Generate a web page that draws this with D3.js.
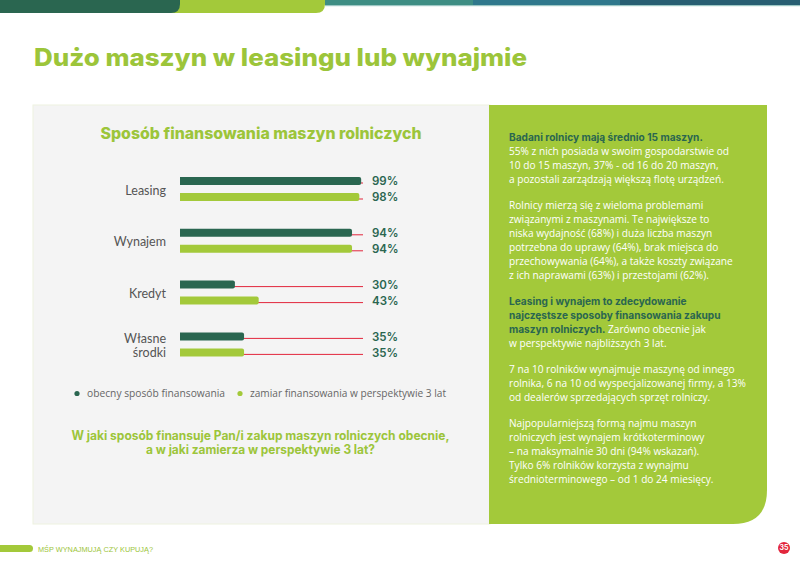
<!DOCTYPE html>
<html><head><meta charset="utf-8">
<script src="https://cdn.jsdelivr.net/npm/d3@7/dist/d3.min.js"></script>
<style>
html,body{margin:0;padding:0;background:#fff;}
svg{display:block;}
</style></head>
<body>
<script>
// ---- data ----
const categories = [["Leasing"], ["Wynajem"], ["Kredyt"], ["Własne", "środki"]];
const seriesNames = ["obecny sposób finansowania", "zamiar finansowania w perspektywie 3 lat"];
const currentValues = [99, 94, 30, 35];
const plannedValues = [98, 94, 43, 35];
const pageTitle = "Dużo maszyn w leasingu lub wynajmie";
const chartTitle = "Sposób finansowania maszyn rolniczych";
const questionLines = ["W jaki sposób finansuje Pan/i zakup maszyn rolniczych obecnie,", "a w jaki zamierza w perspektywie 3 lat?"];
const sideParagraphs = [
  [[["Badani rolnicy mają średnio 15 maszyn.", true]],
   [["55% z nich posiada w swoim gospodarstwie od", false]],
   [["10 do 15 maszyn, 37% - od 16 do 20 maszyn,", false]],
   [["a pozostali zarządzają większą flotę urządzeń.", false]]],
  [[["Rolnicy mierzą się z wieloma problemami", false]],
   [["związanymi z maszynami. Te największe to", false]],
   [["niska wydajność (68%) i duża liczba maszyn", false]],
   [["potrzebna do uprawy (64%), brak miejsca do", false]],
   [["przechowywania (64%), a także koszty związane", false]],
   [["z ich naprawami (63%) i przestojami (62%).", false]]],
  [[["Leasing i wynajem to zdecydowanie", true]],
   [["najczęstsze sposoby finansowania zakupu", true]],
   [["maszyn rolniczych.", true], [" Zarówno obecnie jak", false]],
   [["w perspektywie najbliższych 3 lat.", false]]],
  [[["7 na 10 rolników wynajmuje maszynę od innego", false]],
   [["rolnika, 6 na 10 od wyspecjalizowanej firmy, a 13%", false]],
   [["od dealerów sprzedających sprzęt rolniczy.", false]]],
  [[["Najpopularniejszą formą najmu maszyn", false]],
   [["rolniczych jest wynajem krótkoterminowy", false]],
   [["– na maksymalnie 30 dni (94% wskazań).", false]],
   [["Tylko 6% rolników korzysta z wynajmu", false]],
   [["średnioterminowego – od 1 do 24 miesięcy.", false]]]
];
const footerText = "MŚP WYNAJMUJĄ CZY KUPUJĄ?";
const pageNumber = "35";

// ---- style ----
const DARK = "#2a6650", LIME = "#a3c93a", TITLE_LIME = "#9cc53a", RED = "#e2263c";
const W = 800, H = 565;
const svg = d3.select("body").append("svg").attr("width", W).attr("height", H);
const HEAD = "Inter, 'Open Sans', sans-serif";
const BODY = "'Open Sans', 'Noto Sans', sans-serif";

// top decoration
svg.append("rect").attr("x", 325).attr("y", 0).attr("width", 150).attr("height", 5).attr("fill", "#3e8e84");
svg.append("rect").attr("x", 473).attr("y", 0).attr("width", 150).attr("height", 5).attr("fill", "#2f788c");
svg.append("rect").attr("x", 620).attr("y", 0).attr("width", 180).attr("height", 5).attr("fill", "#285e72");
svg.append("rect").attr("x", 325).attr("y", 5).attr("width", 475).attr("height", 1.2).attr("fill", "#9cc7c4");
function tab(x0, x1, h, r, fill) {
  svg.append("path").attr("fill", fill)
    .attr("d", `M${x0},0 H${x1} V${h - r} Q${x1},${h} ${x1 - r},${h} H${x0} Z`);
}
tab(160, 325, 13, 9, LIME);
tab(0, 180, 13, 9, DARK);

// page title
svg.append("text").attr("x", 34).attr("y", 66).text(pageTitle)
  .attr("font-family", HEAD).attr("font-weight", 800).attr("font-size", 24)
  .attr("fill", TITLE_LIME).attr("textLength", 493).attr("lengthAdjust", "spacingAndGlyphs");

// panels
svg.append("rect").attr("x", 33).attr("y", 105).attr("width", 457).attr("height", 419).attr("fill", "#f4f4f4")
  .attr("stroke", "#eef2e0").attr("stroke-width", 1);
svg.append("path").attr("fill", LIME)
  .attr("d", "M489,105 H767 V490 Q767,524 733,524 H489 Z");

// chart title
svg.append("text").attr("x", 261).attr("y", 139).attr("text-anchor", "middle").text(chartTitle)
  .attr("font-family", HEAD).attr("font-weight", 800).attr("font-size", 15.5)
  .attr("fill", TITLE_LIME).attr("textLength", 321).attr("lengthAdjust", "spacingAndGlyphs");

// scales
const x = d3.scaleLinear().domain([0, 100]).range([180, 363]);
const y = d3.scaleBand().domain(d3.range(categories.length)).range([163.1, 370.3]);
const sub = d3.scaleBand().domain([0, 1]).range([0, 32]).paddingInner(0.5).paddingOuter(0.25);

const rows = [];
categories.forEach((c, i) => {
  [currentValues[i], plannedValues[i]].forEach((v, s) => rows.push({ i, s, v }));
});
const yPos = d => y(d.i) + y.bandwidth() / 2 - 16 + sub(d.s);

const g = svg.append("g");
// red reference lines
g.selectAll("line.ref").data(rows).join("line").attr("class", "ref")
  .attr("x1", d => x(d.v) - 1).attr("x2", x(100))
  .attr("y1", d => yPos(d) + sub.bandwidth() / 2 + 2).attr("y2", d => yPos(d) + sub.bandwidth() / 2 + 2)
  .attr("stroke", RED).attr("stroke-width", 1);
// bars
g.selectAll("path.bar").data(rows).join("path").attr("class", "bar")
  .attr("fill", d => d.s === 0 ? DARK : LIME)
  .attr("d", d => {
    const x0 = x(0), x1 = x(d.v), y0 = yPos(d), h = sub.bandwidth(), r = 2;
    return `M${x0},${y0} H${x1 - r} Q${x1},${y0} ${x1},${y0 + r} V${y0 + h - r} Q${x1},${y0 + h} ${x1 - r},${y0 + h} H${x0} Z`;
  });
// value labels
g.selectAll("text.val").data(rows).join("text").attr("class", "val")
  .attr("x", 372).attr("y", d => yPos(d) + sub.bandwidth() / 2).attr("dy", "0.36em")
  .text(d => d.v + "%")
  .attr("font-family", HEAD).attr("font-weight", 600).attr("font-size", 11.5).attr("fill", DARK);
// category labels
categories.forEach((lines, i) => {
  const cy = y(i) + y.bandwidth() / 2 + 1;
  const t = g.append("text").attr("x", 166).attr("text-anchor", "end")
    .attr("font-family", "Lato, 'Open Sans', sans-serif").attr("font-size", 12.5).attr("fill", "#555");
  lines.forEach((ln, k) => {
    t.append("tspan").attr("x", 166)
      .attr("y", cy + (k - (lines.length - 1) / 2) * 14.6).attr("dy", "0.36em").text(ln);
  });
});

// legend
const legendX = [77, 240];
seriesNames.forEach((n, s) => {
  svg.append("circle").attr("cx", legendX[s]).attr("cy", 393.5).attr("r", 2.6).attr("fill", s === 0 ? DARK : LIME);
  svg.append("text").attr("x", legendX[s] + 10).attr("y", 393.5).attr("dy", "0.35em").text(n)
    .attr("font-family", BODY).attr("font-size", 10).attr("fill", "#666")
    .attr("textLength", s === 0 ? 138 : 196).attr("lengthAdjust", "spacingAndGlyphs");
});

// question
const qLens = [378, 229];
questionLines.forEach((q, k) => {
  svg.append("text").attr("x", 260.5).attr("y", 440 + k * 14).attr("text-anchor", "middle").text(q)
    .attr("font-family", HEAD).attr("font-weight", 700).attr("font-size", 12.5).attr("fill", TITLE_LIME)
    .attr("textLength", qLens[k]).attr("lengthAdjust", "spacingAndGlyphs");
});

// side text
let ty = 140.5;
sideParagraphs.forEach((para, pi) => {
  para.forEach((line, li) => {
    const t = svg.append("text").attr("x", 509).attr("y", ty)
      .attr("font-family", BODY).attr("font-size", 10.15);
    line.forEach(([s, bold]) => {
      t.append("tspan").text(s).attr("fill", bold ? DARK : "#ffffff")
        .attr("font-weight", bold ? 700 : 400)
        .attr("font-family", bold ? HEAD : BODY);
    });
    ty += 14.0;
  });
  ty += 12;
});

// footer
svg.append("rect").attr("x", -10).attr("y", 545).attr("width", 43).attr("height", 7).attr("rx", 3.5).attr("fill", LIME);
svg.append("text").attr("x", 38).attr("y", 551.5).text(footerText)
  .attr("font-family", "'Liberation Sans Narrow', 'Liberation Sans', sans-serif").attr("font-size", 7)
  .attr("fill", TITLE_LIME).attr("textLength", 115).attr("lengthAdjust", "spacingAndGlyphs");
svg.append("circle").attr("cx", 784).attr("cy", 548).attr("r", 6).attr("fill", RED);
svg.append("text").attr("x", 784).attr("y", 548).attr("dy", "0.35em").attr("text-anchor", "middle").text(pageNumber)
  .attr("font-family", HEAD).attr("font-weight", 700).attr("font-size", 7).attr("fill", "#fff");
</script>
</body></html>
